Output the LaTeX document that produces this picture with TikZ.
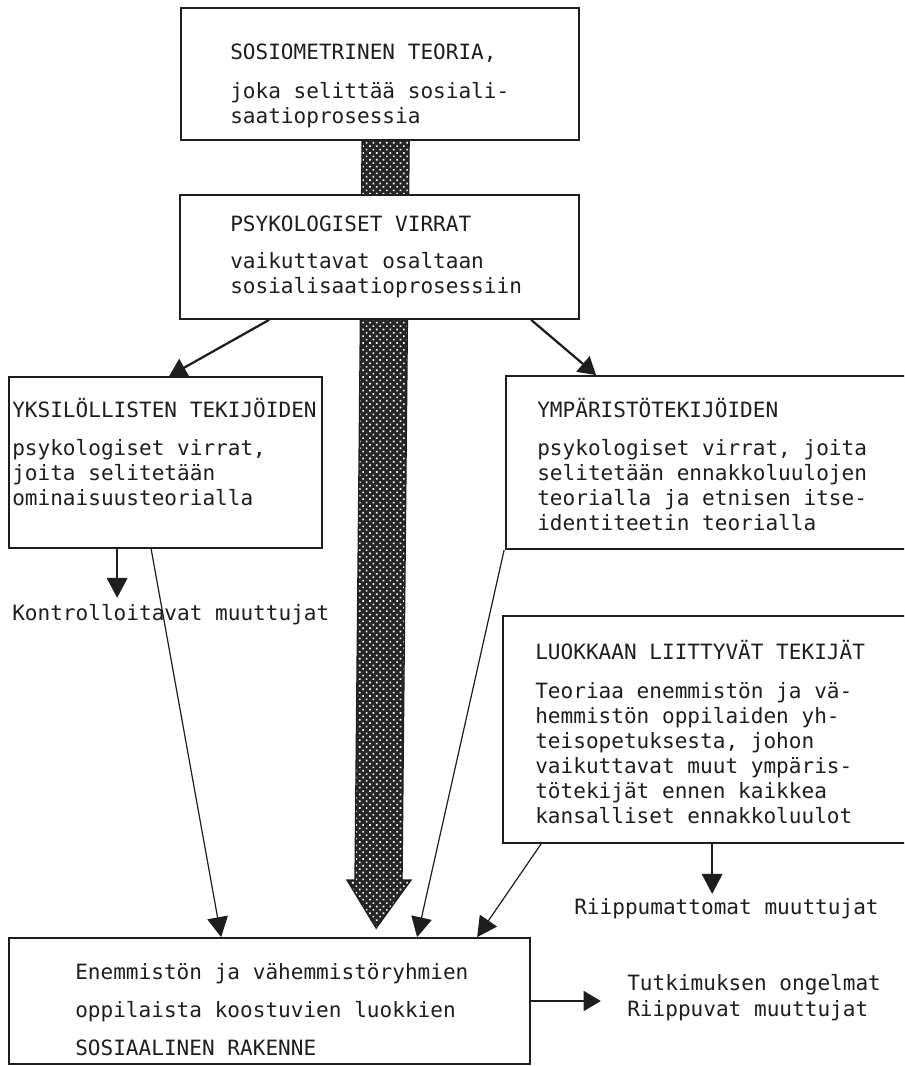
\documentclass[tikz,border=0pt]{standalone}
\usepackage{fontspec}
\setmonofont{DejaVu Sans Mono}
\usetikzlibrary{arrows.meta,patterns.meta,calc,fit,backgrounds}
\definecolor{ink}{HTML}{1E1E1E}
\begin{document}
\begin{tikzpicture}[x=0.75pt,y=-0.75pt,
  box/.style={draw=ink, line width=1.3pt, fill=white, inner sep=0pt},
  txt/.style={inner sep=0pt, anchor=base west, align=left, text=ink,
    font=\ttfamily\fontsize{15.8pt}{18.75pt}\selectfont},
  wide/.style={font=\ttfamily\fontsize{15.8pt}{28.5pt}\selectfont},
  mid/.style={font=\ttfamily\fontsize{15.8pt}{19.5pt}\selectfont},
  thinarrow/.style={draw=ink, line width=0.9pt, -{Triangle[length=15pt,width=15.5pt]}},
  thickarrow/.style={draw=ink, line width=1.7pt, -{Triangle[length=13pt,width=15pt]}},
]
\clip (0,0) rectangle (904,1066);

% boxes
\node[box, fit={(181,8) (579,140)}] (b1) {};
\node[box, fit={(180,195) (579,319)}] (b2) {};
\node[box, fit={(9,377) (322,548)}] (b3) {};
\node[box, fit={(506,376) (930,549)}] (b4) {};
\node[box, fit={(503,616) (930,843)}] (b5) {};
\node[box, fit={(9,938) (530,1064)}] (b6) {};

% dotted main arrow from the theory box down to the class structure
\begin{pgfonlayer}{background}
  \fill[white] (0,0) rectangle (904,1066);
  \coordinate (ta) at ($(b1.south west)+(182,0)$);
  \coordinate (tb) at ($(b1.south west)+(229,0)$);
  \coordinate (tip) at ($(b6.north west)+(368,-9)$);
  \path[fill=black!85]
    (ta) -- (355,880) -- (347,880) -- (tip) -- (411,880) -- (402,880) -- (tb) -- cycle;
  \path[pattern={Dots[distance=3.6pt,radius=0.85pt,angle=45]}, pattern color=white]
    (ta) -- (355,880) -- (347,880) -- (tip) -- (411,880) -- (402,880) -- (tb) -- cycle;
  \draw[ink, line width=1pt, line join=miter]
    (ta) -- (355,880) -- (347,880) -- (tip) -- (411,880) -- (402,880) -- (tb);
\end{pgfonlayer}

% texts (multi-line nodes are placed by the baseline of their last line)
\node[txt] (t1h) at (230,60) {SOSIOMETRINEN TEORIA,};
\node[txt] (t1b) at (230,124) {joka selittää sosiali-\\saatioprosessia};
\node[txt] (t2h) at (230,232) {PSYKOLOGISET VIRRAT};
\node[txt] (t2b) at (230,293) {vaikuttavat osaltaan\\sosialisaatioprosessiin};
\node[txt] (t3h) at (12,417) {YKSILÖLLISTEN TEKIJÖIDEN};
\node[txt] (t3b) at (12,505) {psykologiset virrat,\\joita selitetään\\ominaisuusteorialla};
\node[txt] (t4h) at (537,417) {YMPÄRISTÖTEKIJÖIDEN};
\node[txt] (t4b) at (537,530) {psykologiset virrat, joita\\selitetään ennakkoluulojen\\teorialla ja etnisen itse-\\identiteetin teorialla};
\node[txt] (t5h) at (535,659) {LUOKKAAN LIITTYVÄT TEKIJÄT};
\node[txt] (t5b) at (535,823) {Teoriaa enemmistön ja vä-\\hemmistön oppilaiden yh-\\teisopetuksesta, johon\\vaikuttavat muut ympäris-\\tötekijät ennen kaikkea\\kansalliset ennakkoluulot};
\node[txt, wide] (t6) at (75,1055) {Enemmistön ja vähemmistöryhmien\\oppilaista koostuvien luokkien\\SOSIAALINEN RAKENNE};
\node[txt] (kont) at (12,620) {Kontrolloitavat muuttujat};
\node[txt] (riip) at (574,914) {Riippumattomat muuttujat};
\node[txt, mid] (tutk) at (627,1016) {Tutkimuksen ongelmat\\Riippuvat muuttujat};

% connectors
\draw[thickarrow] ($(b2.south west)+(90,0)$) -- ($(b3.north west)+(161,0)$);
\draw[thickarrow] ($(b2.south west)+(352,0)$) -- ($(b4.north west)+(91,0)$);
\draw[thinarrow] ($(b3.south west)+(143,0)$) -- ($(b6.north west)+(213,0)$);
\draw[thinarrow] ($(b4.south west)+(-1,0)$) -- ($(b6.north west)+(409,0)$);
\draw[thinarrow] ($(b5.south west)+(39,0)$) -- ($(b6.north west)+(469,0)$);
\draw[thinarrow, line width=1.2pt] ($(b3.south west)+(109,0)$) -- ++(0,49);
\draw[thinarrow, line width=1.2pt] ($(b5.south west)+(210,0)$) -- ++(0,50);
\draw[thickarrow, line width=1.4pt] (b6.east) -- ++(70,0);
\end{tikzpicture}
\end{document}
